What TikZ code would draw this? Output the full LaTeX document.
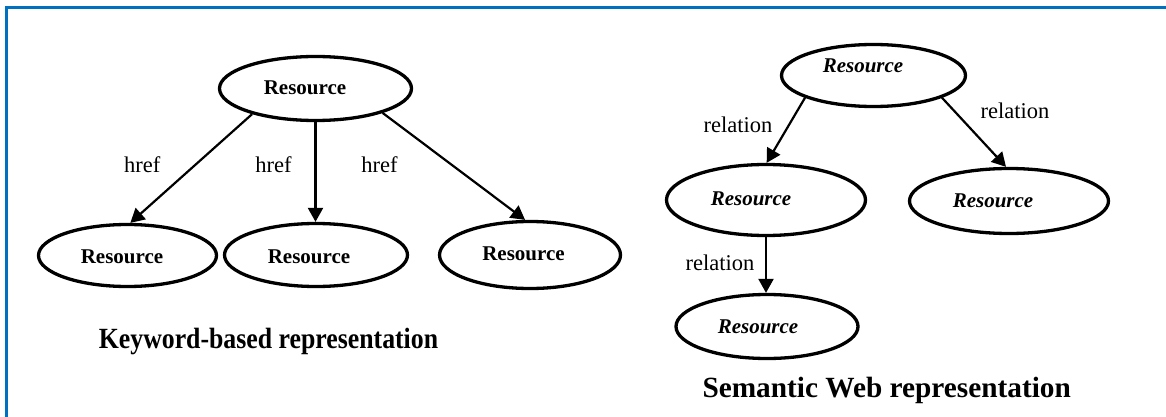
\documentclass[tikz,border=0pt]{standalone}
\usepackage{fontspec}
\setmainfont{Liberation Serif}
\usetikzlibrary{shapes.geometric,arrows.meta}
\definecolor{frameblue}{RGB}{0,112,192}
\tikzset{
  res/.style={ellipse, draw=black, line width=3.3pt, inner sep=0pt},
  restext/.style={anchor=base, inner sep=0pt, font=\fontsize{21}{25}\selectfont\bfseries},
  semtext/.style={restext, font=\fontsize{21}{25}\selectfont\bfseries\itshape},
  edgetext/.style={anchor=base, inner sep=0pt, font=\fontsize{22.5}{26}\selectfont},
  caption/.style={anchor=base, inner sep=0pt, font=\fontsize{29.3}{34}\selectfont\bfseries},
  link/.style={line width=2.2pt, -{Triangle[length=14pt,width=15pt]}},
}
\begin{document}
\begin{tikzpicture}[x=1pt, y=-1pt]
\useasboundingbox (0,0) rectangle (1166,417);
% frame (only its top and left edges fall inside the page)
\draw[frameblue, line width=3pt] (6.3,417) -- (6.3,8) -- (1166,8);

% ---- keyword-based graph ----
\node[res, minimum width=192pt, minimum height=64pt] (k0) at (315.5,88.5) {};
\node[res, minimum width=178pt, minimum height=62pt] (k1) at (127.5,255.5) {};
\node[res, minimum width=183pt, minimum height=63pt] (k2) at (316,255) {};
\node[res, minimum width=181pt, minimum height=67pt] (k3) at (530,255) {};
\node[restext] (k0t) at (305,95) {Resource};
\node[restext] (k1t) at (122,263) {Resource};
\node[restext] (k2t) at (309,263) {Resource};
\node[restext] (k3t) at (523.5,260) {Resource};
\draw[link] (k0.202.3) -- (k1.85.6);
\draw[link] (k0.south) -- (k0.south |- k2.north);
\draw[link] (k0.-20.4) -- (k3.98);
\node[edgetext] (h1) at (142.3,172.7) {href};
\node[edgetext] (h2) at (273.5,172) {href};
\node[edgetext] (h3) at (379.5,172) {href};
\node[caption, xscale=0.88] (kcap) at (268.5,348) {Keyword-based representation};

% ---- semantic web graph ----
\node[res, minimum width=184pt, minimum height=62pt] (s0) at (873.5,75.5) {};
\node[res, minimum width=199pt, minimum height=71pt] (s1) at (766,200) {};
\node[res, minimum width=199pt, minimum height=65pt] (s2) at (1009,201) {};
\node[res, minimum width=182pt, minimum height=64pt] (s3) at (767,326.5) {};
\node[semtext] (s0t) at (863,73) {Resource};
\node[semtext] (s1t) at (751,205) {Resource};
\node[semtext] (s2t) at (993,207) {Resource};
\node[semtext] (s3t) at (758,333) {Resource};
\draw[link] (s0.198.8) -- (s1.89);
\draw[link] (s0.-18.5) -- (s2.95);
\draw[link] (s1.south) -- (s1.south |- s3.north);
\node[edgetext] (r1) at (738,132.7) {relation};
\node[edgetext] (r2) at (1015,118.3) {relation};
\node[edgetext] (r3) at (720,270) {relation};
\node[caption] (scap) at (886.7,397) {Semantic Web representation};
\end{tikzpicture}
\end{document}
